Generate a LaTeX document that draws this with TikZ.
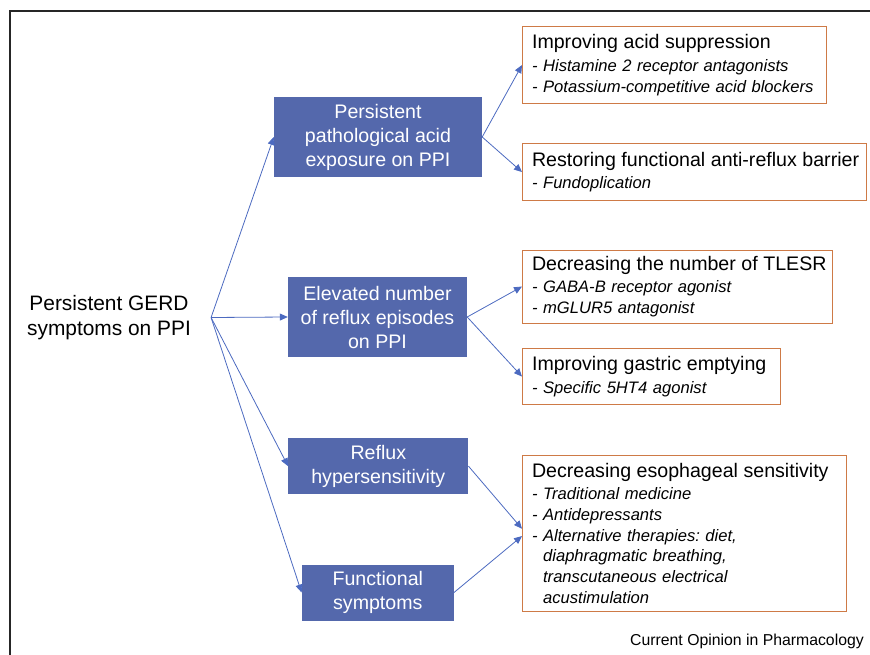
\documentclass[tikz,border=0pt]{standalone}
\usepackage{fontspec}
\setmainfont{Liberation Sans}
\usetikzlibrary{arrows.meta}
\frenchspacing

\definecolor{boxblue}{RGB}{84,104,172}
\definecolor{linkblue}{RGB}{76,106,192}
\definecolor{rimorange}{RGB}{206,122,70}

\newcommand{\bigfnt}{\fontsize{19.6}{24}\selectfont}
\newcommand{\subfnt}{\fontsize{16.6}{20.8}\selectfont\itshape}
\newcommand{\headline}[1]{\mbox{\bigfnt\upshape #1}}
\newcommand{\entry}[1]{\mbox{#1}}

\begin{document}
\begin{tikzpicture}[x=1pt,y=-1pt]
\tikzstyle{cause} = [fill=boxblue, text=white, font=\bigfnt, align=center, inner sep=0pt]
\tikzstyle{remedy} = [draw=rimorange, line width=1.1pt, anchor=north west, align=left, font=\subfnt, inner xsep=9.5pt, inner ysep=0pt]
\tikzstyle{link} = [draw=linkblue, line width=0.8pt, -{Triangle[length=8pt,width=7pt]}]

\useasboundingbox (0,0) rectangle (870,655);

% Rahmen
\draw[line width=1.8pt, black!85] (10,655) -- (10,11) -- (870,11);

% Ausgangssymptom
\node[font=\fontsize{20.9}{25}\selectfont, align=center, inner xsep=20pt] (gerd) at (109,317.5) {Persistent GERD\\symptoms on PPI};

% Mechanismen
\node[cause, minimum width=208pt, minimum height=80pt] (acid) at (378,137) {Persistent\\pathological acid\\exposure on PPI};
\node[cause, minimum width=179pt, minimum height=80pt] (reflux) at (377.5,317) {Elevated number\\of reflux episodes\\on PPI};
\node[cause, minimum width=180pt, minimum height=56pt] (hyper) at (378.3,466.2) {Reflux\\hypersensitivity};
\node[cause, minimum width=152pt, minimum height=56pt] (func) at (377.8,592.5) {Functional\\symptoms};

% Therapien
\node[remedy, text width=285pt, minimum height=77pt] (suppr) at (522,26) {\headline{Improving acid suppression}\\[2pt]
  \entry{- Histamine 2 receptor antagonists}\\
  \entry{- Potassium-competitive acid blockers}};
\node[remedy, text width=325pt, minimum height=57pt] (barrier) at (522,143) {\headline{Restoring functional anti-reflux barrier}\\[2pt]
  \entry{- Fundoplication}};
\node[remedy, text width=291pt, minimum height=73pt] (tlesr) at (522,249.5) {\headline{Decreasing the number of TLESR}\\[1.5pt]
  \entry{- GABA-B receptor agonist}\\
  \entry{- mGLUR5 antagonist}};
\node[remedy, text width=239pt, minimum height=56pt] (gastric) at (522,348) {\headline{Improving gastric emptying}\\[1.5pt]
  \entry{- Specific 5HT4 agonist}};
\node[remedy, text width=305pt, minimum height=156pt] (sens) at (522,455) {\headline{Decreasing esophageal sensitivity}\\[1pt]
  \entry{- Traditional medicine}\\
  \entry{- Antidepressants}\\
  \entry{- Alternative therapies: diet,}\\
  \entry{\phantom{- }diaphragmatic breathing,}\\
  \entry{\phantom{- }transcutaneous electrical}\\
  \entry{\phantom{- }acustimulation}};

% Quelle
\node[font=\fontsize{15.8}{19}\selectfont, anchor=east, inner sep=0pt] (source) at (864,641.5) {Current Opinion in Pharmacology};

% Pfeile
\foreach \t in {acid,reflux,hyper,func}
  \draw[link] (gerd.east) -- (\t.west);
\draw[link] (acid.east) -- (suppr.west);
\draw[link] (acid.east) -- (barrier.west);
\draw[link] (reflux.east) -- (tlesr.west);
\draw[link] (reflux.east) -- (gastric.west);
\draw[link] (hyper.east) -- ([yshift=4.8pt]sens.west);
\draw[link] (func.east) -- ([yshift=-2.5pt]sens.west);

\end{tikzpicture}
\end{document}
